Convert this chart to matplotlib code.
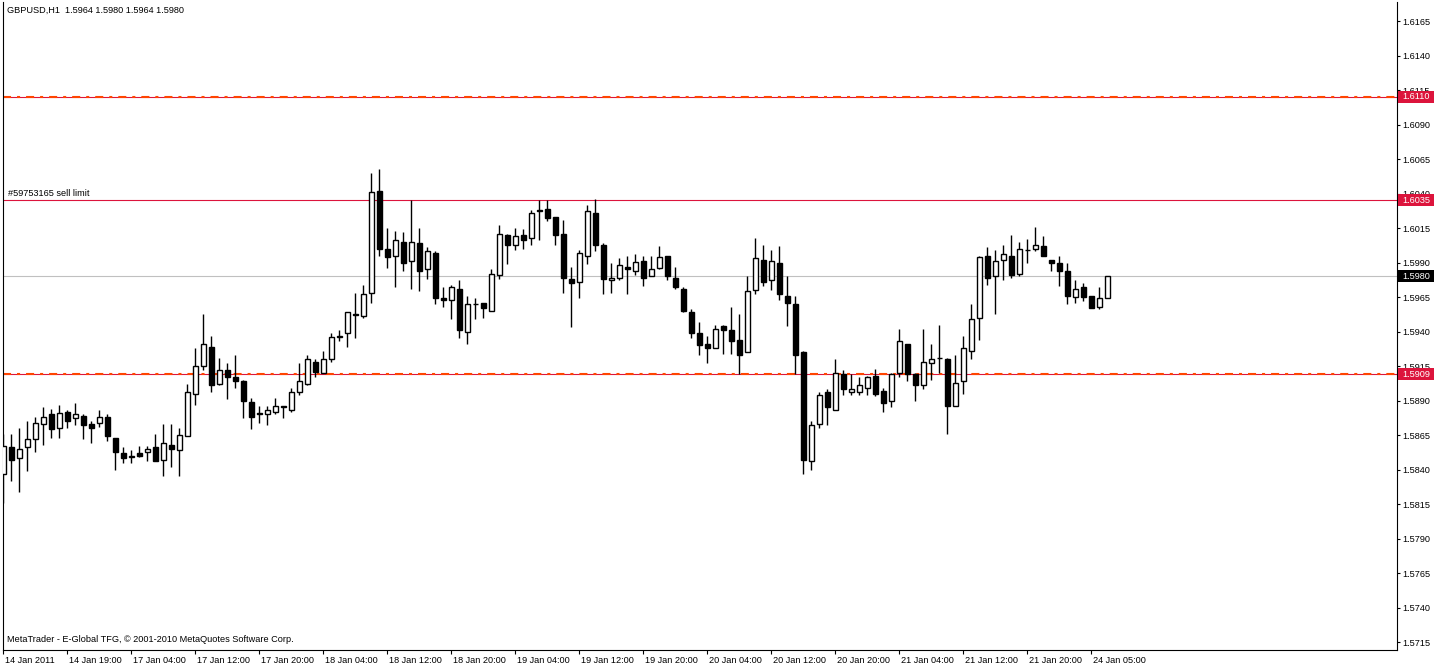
import matplotlib
matplotlib.use("Agg")
import matplotlib.pyplot as plt
import matplotlib.transforms as mtransforms
from matplotlib.patches import Rectangle
import numpy as np

# ---------------------------
# datos GBPUSD H1
# ---------------------------
opens = [1.5837, 1.5856, 1.5848, 1.5856, 1.5862, 1.5873, 1.5880, 1.5870, 1.5882, 1.5877,
         1.5879, 1.5873, 1.5874, 1.5878, 1.5863, 1.5852, 1.5849, 1.5852, 1.5853, 1.5856,
         1.5847, 1.5858, 1.5854, 1.5864, 1.5895, 1.5915, 1.5929, 1.5902, 1.5912, 1.5907,
         1.5904, 1.5889, 1.5881, 1.5880, 1.5882, 1.5886, 1.5883, 1.5896, 1.5902, 1.5918,
         1.5910, 1.5920, 1.5936, 1.5939, 1.5953, 1.5951, 1.5968, 1.6042, 1.6000, 1.5995,
         1.6005, 1.5991, 1.6004, 1.5985, 1.5997, 1.5964, 1.5963, 1.5971, 1.5940, 1.5960,
         1.5961, 1.5955, 1.5981, 1.6010, 1.6003, 1.6010, 1.6008, 1.6028, 1.6029, 1.6023,
         1.6011, 1.5978, 1.5976, 1.5995, 1.6026, 1.6003, 1.5977, 1.5979, 1.5987, 1.5984,
         1.5991, 1.5980, 1.5986, 1.5995, 1.5979, 1.5971, 1.5954, 1.5939, 1.5931, 1.5928,
         1.5944, 1.5941, 1.5934, 1.5925, 1.5970, 1.5992, 1.5977, 1.5990, 1.5966, 1.5960,
         1.5925, 1.5846, 1.5873, 1.5896, 1.5883, 1.5909, 1.5896, 1.5896, 1.5899, 1.5908,
         1.5897, 1.5890, 1.5910, 1.5931, 1.5909, 1.5901, 1.5917, 1.5921, 1.5920, 1.5886,
         1.5904, 1.5926, 1.5950, 1.5995, 1.5980, 1.5992, 1.5995, 1.5982, 1.5999, 1.6000,
         1.6002, 1.5992, 1.5990, 1.5984, 1.5965, 1.5972, 1.5966, 1.5958, 1.5964]
highs = [1.5866, 1.5866, 1.5870, 1.5875, 1.5878, 1.5885, 1.5884, 1.5887, 1.5883, 1.5888,
         1.5880, 1.5875, 1.5883, 1.5880, 1.5863, 1.5856, 1.5854, 1.5857, 1.5857, 1.5866,
         1.5873, 1.5873, 1.5870, 1.5902, 1.5928, 1.5953, 1.5937, 1.5921, 1.5917, 1.5923,
         1.5905, 1.5892, 1.5886, 1.5886, 1.5892, 1.5886, 1.5899, 1.5917, 1.5923, 1.5920,
         1.5926, 1.5939, 1.5941, 1.5954, 1.5968, 1.5974, 1.6055, 1.6058, 1.6015, 1.6013,
         1.6012, 1.6035, 1.6015, 1.6001, 1.5998, 1.5972, 1.5974, 1.5977, 1.5966, 1.5964,
         1.5961, 1.5985, 1.6017, 1.6011, 1.6015, 1.6014, 1.6028, 1.6035, 1.6035, 1.6023,
         1.6021, 1.5987, 1.5999, 1.6032, 1.6036, 1.6004, 1.5990, 1.5993, 1.5995, 1.5996,
         1.5995, 1.5995, 1.6002, 1.5995, 1.5987, 1.5972, 1.5956, 1.5947, 1.5937, 1.5945,
         1.5945, 1.5958, 1.5953, 1.5980, 1.6008, 1.6003, 1.5999, 1.6002, 1.5980, 1.5966,
         1.5926, 1.5875, 1.5896, 1.5898, 1.5920, 1.5912, 1.5909, 1.5907, 1.5908, 1.5913,
         1.5899, 1.5910, 1.5942, 1.5931, 1.5910, 1.5942, 1.5931, 1.5945, 1.5921, 1.5923,
         1.5937, 1.5960, 1.5995, 1.6001, 1.5999, 1.6003, 1.6010, 1.6005, 1.6007, 1.6016,
         1.6009, 1.5992, 1.5995, 1.5990, 1.5977, 1.5975, 1.5966, 1.5972, 1.5980]
lows = [1.5816, 1.5832, 1.5824, 1.5839, 1.5853, 1.5858, 1.5863, 1.5863, 1.5870, 1.5872,
        1.5862, 1.5859, 1.5871, 1.5861, 1.5840, 1.5845, 1.5845, 1.5849, 1.5846, 1.5846,
        1.5835, 1.5842, 1.5835, 1.5864, 1.5887, 1.5912, 1.5896, 1.5901, 1.5891, 1.5899,
        1.5877, 1.5869, 1.5874, 1.5872, 1.5880, 1.5877, 1.5882, 1.5894, 1.5901, 1.5907,
        1.5910, 1.5918, 1.5933, 1.5929, 1.5935, 1.5950, 1.5961, 1.5995, 1.5986, 1.5972,
        1.5984, 1.5971, 1.5969, 1.5978, 1.5960, 1.5958, 1.5949, 1.5935, 1.5931, 1.5949,
        1.5950, 1.5955, 1.5978, 1.5989, 1.5999, 1.6000, 1.6003, 1.6006, 1.6020, 1.6003,
        1.5968, 1.5943, 1.5964, 1.5989, 1.5998, 1.5967, 1.5968, 1.5977, 1.5967, 1.5981,
        1.5973, 1.5980, 1.5985, 1.5977, 1.5971, 1.5954, 1.5935, 1.5923, 1.5917, 1.5928,
        1.5924, 1.5924, 1.5909, 1.5925, 1.5967, 1.5973, 1.5970, 1.5963, 1.5944, 1.5909,
        1.5837, 1.5840, 1.5870, 1.5872, 1.5883, 1.5894, 1.5894, 1.5894, 1.5894, 1.5893,
        1.5882, 1.5885, 1.5907, 1.5904, 1.5890, 1.5898, 1.5905, 1.5910, 1.5866, 1.5886,
        1.5895, 1.5920, 1.5934, 1.5974, 1.5953, 1.5977, 1.5979, 1.5980, 1.5990, 1.5998,
        1.5995, 1.5984, 1.5973, 1.5960, 1.5961, 1.5962, 1.5957, 1.5956, 1.5964]
closes = [1.5857, 1.5847, 1.5855, 1.5862, 1.5874, 1.5878, 1.5869, 1.5881, 1.5875, 1.5880,
          1.5872, 1.5870, 1.5878, 1.5864, 1.5853, 1.5848, 1.5850, 1.5850, 1.5855, 1.5846,
          1.5859, 1.5855, 1.5865, 1.5896, 1.5915, 1.5931, 1.5901, 1.5912, 1.5907, 1.5904,
          1.5890, 1.5878, 1.5880, 1.5883, 1.5886, 1.5885, 1.5896, 1.5904, 1.5920, 1.5911,
          1.5920, 1.5936, 1.5937, 1.5954, 1.5952, 1.5967, 1.6041, 1.6000, 1.5994, 1.6006,
          1.5990, 1.6005, 1.5984, 1.5998, 1.5964, 1.5963, 1.5972, 1.5941, 1.5960, 1.5960,
          1.5957, 1.5982, 1.6011, 1.6003, 1.6009, 1.6006, 1.6026, 1.6027, 1.6022, 1.6010,
          1.5979, 1.5975, 1.5997, 1.6027, 1.6003, 1.5978, 1.5979, 1.5988, 1.5985, 1.5990,
          1.5979, 1.5985, 1.5994, 1.5980, 1.5972, 1.5955, 1.5939, 1.5930, 1.5928, 1.5942,
          1.5941, 1.5933, 1.5923, 1.5969, 1.5993, 1.5976, 1.5991, 1.5967, 1.5961, 1.5923,
          1.5847, 1.5872, 1.5894, 1.5885, 1.5910, 1.5898, 1.5898, 1.5901, 1.5907, 1.5895,
          1.5888, 1.5909, 1.5933, 1.5909, 1.5901, 1.5918, 1.5920, 1.5921, 1.5886, 1.5903,
          1.5928, 1.5949, 1.5994, 1.5979, 1.5991, 1.5996, 1.5981, 1.6000, 1.5999, 1.6003,
          1.5995, 1.5990, 1.5984, 1.5966, 1.5971, 1.5965, 1.5957, 1.5964, 1.5980]

date_labels = ["14 Jan 2011", "14 Jan 19:00", "17 Jan 04:00", "17 Jan 12:00", "17 Jan 20:00",
               "18 Jan 04:00", "18 Jan 12:00", "18 Jan 20:00", "19 Jan 04:00", "19 Jan 12:00",
               "19 Jan 20:00", "20 Jan 04:00", "20 Jan 12:00", "20 Jan 20:00", "21 Jan 04:00",
               "21 Jan 12:00", "21 Jan 20:00", "24 Jan 05:00"]
label_step = 8  # una etiqueta cada 8 barras

take_profit = 1.6110
sell_limit = 1.6035
bid = 1.5980
stop_loss = 1.5909
order_text = "#59753165 sell limit"
header = "GBPUSD,H1  1.5964 1.5980 1.5964 1.5980"
footer = "MetaTrader - E-Global TFG, \u00a9 2001-2010 MetaQuotes Software Corp."

# ---------------------------
# estilo
# ---------------------------
plt.rcParams["font.family"] = ["Liberation Sans", "DejaVu Sans"]
plt.rcParams["lines.scale_dashes"] = False
FS = 6.6
CRIMSON = "#DC143C"
ORANGE = "#FF4500"

W, H = 1434, 666
fig = plt.figure(figsize=(W / 100, H / 100), dpi=100)
fig.patch.set_facecolor("white")
ax = fig.add_axes([3 / W, 16 / H, 1394 / W, 648 / H])

n = len(opens)
x = np.arange(n)
o = np.array(opens)
c = np.array(closes)

# mechas y cuerpos
ax.vlines(x, lows, highs, color="black", lw=1.0, zorder=2)
up = c >= o
ax.bar(x[up], c[up] - o[up], bottom=o[up], width=0.6, facecolor="white",
       edgecolor="black", linewidth=1.0, zorder=3)
ax.bar(x[~up], c[~up] - o[~up], bottom=o[~up], width=0.6, facecolor="black",
       edgecolor="black", linewidth=1.0, zorder=3)

# líneas horizontales
for lvl in (take_profit, stop_loss):
    ax.axhline(lvl, color=CRIMSON, lw=0.8, zorder=1)
    ax.axhline(lvl, color=ORANGE, lw=1.5, dashes=(5.8, 4.3, 2.2, 4.3), zorder=1)
ax.axhline(sell_limit, color=CRIMSON, lw=0.8, zorder=1)
ax.axhline(bid, color="#C0C0C0", lw=0.8, zorder=1)

# ejes
k = 0.0025 / 34.5
ax.set_ylim(1.6165 - 629 * k, 1.6165 + 19 * k)
ax.set_xlim(-0.04, 174.21)
ax.set_yticks(np.arange(1.5715, 1.6166, 0.0025))
ax.yaxis.set_major_formatter(plt.FormatStrFormatter("%.4f"))
ax.yaxis.tick_right()
ax.tick_params(axis="y", length=2.2, width=0.8, pad=1.5, labelsize=FS, direction="out")

ticks = x[::label_step][:len(date_labels)]
ax.set_xticks(ticks)
ax.set_xticklabels(date_labels)
ax.tick_params(axis="x", length=3.0, width=0.8, pad=1.0, labelsize=FS, direction="out")
offset = mtransforms.ScaledTranslation(2 / 100, 0, fig.dpi_scale_trans)
for lab in ax.get_xticklabels():
    lab.set_horizontalalignment("left")
    lab.set_transform(lab.get_transform() + offset)

for side in ("left", "right", "bottom"):
    ax.spines[side].set_linewidth(0.8)
ax.spines["top"].set_visible(False)

# etiquetas de precio a la derecha (tapan la etiqueta del eje que queda debajo)
blend = mtransforms.blended_transform_factory(ax.transAxes, ax.transData)
box_w = 37 / 1394
box_h = 12 * k
for lvl, bg in ((take_profit, CRIMSON), (sell_limit, CRIMSON), (bid, "black"), (stop_loss, CRIMSON)):
    ax.add_patch(Rectangle((1.0 + 1 / 1394, lvl - box_h / 2), box_w, box_h, transform=blend,
                           facecolor=bg, edgecolor="none", clip_on=False, zorder=6))
    ax.text(1.0 + 5 / 1394, lvl, "%.4f" % lvl, transform=blend, color="white", fontsize=FS,
            va="center", ha="left", clip_on=False, zorder=7)

ax.text(5 / 1394, sell_limit + 2.5 * k, order_text, transform=blend, fontsize=FS,
        va="bottom", ha="left")
fig.text(7 / W, 1 - 10 / H, header, fontsize=FS, va="center", ha="left")
fig.text(7 / W, 1 - 640 / H, footer, fontsize=FS, va="center", ha="left")

fig.savefig("out.png", dpi=100)
plt.close(fig)
